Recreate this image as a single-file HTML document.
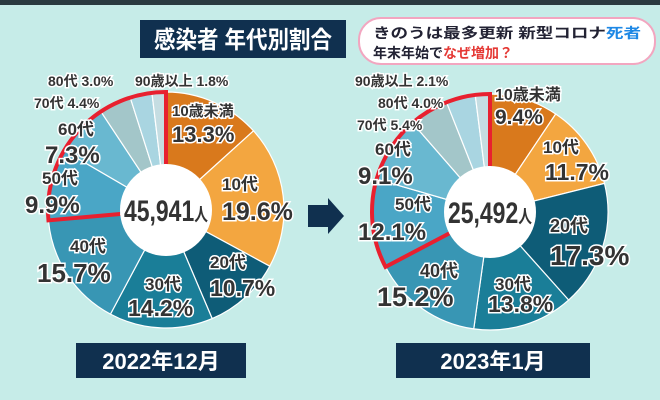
<!DOCTYPE html><html><head><meta charset="utf-8"><style>
body{margin:0;width:660px;height:400px;overflow:hidden;background:#c6ece8;font-family:"Liberation Sans","Noto Sans CJK JP",sans-serif}
svg{position:absolute;left:0;top:0}
</style></head><body>
<svg id="s" width="660" height="400" viewBox="0 0 660 400" font-family="'Liberation Sans','Noto Sans CJK JP',sans-serif">
<rect width="660" height="400" fill="#c6ece8"/>
<rect width="660" height="5" fill="#2a3a40"/>
<rect x="140" y="20" width="206" height="38" fill="#10304f"/>
<text x="243" y="48" font-size="24" font-weight="bold" fill="#fff" text-anchor="middle" textLength="178" lengthAdjust="spacingAndGlyphs">感染者 年代別割合</text>
<rect x="359" y="18" width="296" height="46" rx="22" fill="#fff" stroke="#f2a6c0" stroke-width="2"/>
<text x="373" y="38" font-size="14" font-weight="bold" fill="#223" textLength="268" lengthAdjust="spacingAndGlyphs">きのうは最多更新 新型コロナ<tspan fill="#1e88e5">死者</tspan></text>
<text x="373" y="58" font-size="14" font-weight="bold" fill="#223">年末年始で<tspan fill="#e53935">なぜ増加？</tspan></text>
<g id="p1"></g><g id="p2"></g>
<polygon points="308,205 328,205 328,198 344,216 328,234 328,227 308,227" fill="#10304f"/>
<rect x="76" y="343" width="170" height="35" fill="#10304f"/>
<text x="161" y="369" font-size="22" font-weight="bold" fill="#fff" text-anchor="middle">2022年12月</text>
<rect x="396" y="343" width="194" height="35" fill="#10304f"/>
<text x="493" y="369" font-size="22" font-weight="bold" fill="#fff" text-anchor="middle">2023年1月</text>
<g fill="#333" stroke="#fff" stroke-width="3" paint-order="stroke" font-weight="bold">
<text x="135" y="86" font-size="14">90歳以上 1.8%</text>
<text x="48" y="86" font-size="14">80代 3.0%</text>
<text x="34" y="108" font-size="14">70代 4.4%</text>
<text x="172" y="116" font-size="15">10歳未満</text>
<text x="172" y="142" font-size="22">13.3%</text>
<text x="222" y="190" font-size="17">10代</text>
<text x="222" y="220" font-size="25">19.6%</text>
<text x="210" y="268" font-size="17">20代</text>
<text x="210" y="296" font-size="23">10.7%</text>
<text x="145" y="290" font-size="17">30代</text>
<text x="128" y="316" font-size="23">14.2%</text>
<text x="70" y="252" font-size="17">40代</text>
<text x="37" y="282" font-size="26">15.7%</text>
<text x="42" y="184" font-size="17">50代</text>
<text x="25" y="213" font-size="24">9.9%</text>
<text x="58" y="135" font-size="17">60代</text>
<text x="45" y="163" font-size="24">7.3%</text>
<text x="355" y="86" font-size="14">90歳以上 2.1%</text>
<text x="378" y="108" font-size="14">80代 4.0%</text>
<text x="357" y="130" font-size="14">70代 5.4%</text>
<text x="495" y="100" font-size="16">10歳未満</text>
<text x="495" y="124" font-size="21">9.4%</text>
<text x="543" y="153" font-size="17">10代</text>
<text x="545" y="180" font-size="23">11.7%</text>
<text x="550" y="232" font-size="18">20代</text>
<text x="550" y="265" font-size="28">17.3%</text>
<text x="495" y="290" font-size="17">30代</text>
<text x="488" y="312" font-size="23">13.8%</text>
<text x="420" y="277" font-size="18">40代</text>
<text x="377" y="306" font-size="27">15.2%</text>
<text x="395" y="210" font-size="17">50代</text>
<text x="358" y="240" font-size="24">12.1%</text>
<text x="375" y="155" font-size="17">60代</text>
<text x="358" y="184" font-size="24">9.1%</text>
</g>
</svg>
<script>
const C=["#d9791c","#f3a640","#0e5c77","#1a7e98","#3896b4","#4aa6c6","#69b8d0","#a3c6c9","#a9d5e1","#c5dde2"];
function pie(g,cx,cy,r,ri,d,redFrom,num){
 const el=document.getElementById(g);let a=0,h="";
 const P=(t,R)=>[cx+R*Math.sin(t*2*Math.PI/100),cy-R*Math.cos(t*2*Math.PI/100)];
 d.forEach((v,i)=>{const[s1,s2]=[P(a,r),P(a+v,r)];const l=v>50?1:0;
  h+=`<path d="M${cx},${cy}L${s1}A${r},${r} 0 ${l} 1 ${s2}Z" fill="${C[i]}" stroke="#fff" stroke-width="1.2"/>`;a+=v;});
 const q=P(redFrom,ri),p=P(redFrom,r),t=P(100,r),ti=P(100,ri);
 h+=`<path d="M${q}L${p}A${r},${r} 0 0 1 ${t}L${ti}" fill="none" stroke="#e8202f" stroke-width="4"/>`;
 h+=`<circle cx="${cx}" cy="${cy}" r="${ri}" fill="#fff"/>`;
 h+=`<text x="${cx}" y="${cy+11}" font-size="30" font-weight="bold" fill="#333" text-anchor="middle" textLength="${ri*2-8}" lengthAdjust="spacingAndGlyphs">${num}<tspan font-size="18">人</tspan></text>`;
 el.innerHTML=h;}
pie("p1",166,210,118,46,[13.3,19.6,10.7,14.2,15.7,9.9,7.3,4.4,3.0,1.8],73.6,"45,941");
pie("p2",490,212,118,46,[9.4,11.7,17.3,13.8,15.2,12.1,9.1,5.4,4.0,2.1],67.3,"25,492");
</script>
</body></html>
